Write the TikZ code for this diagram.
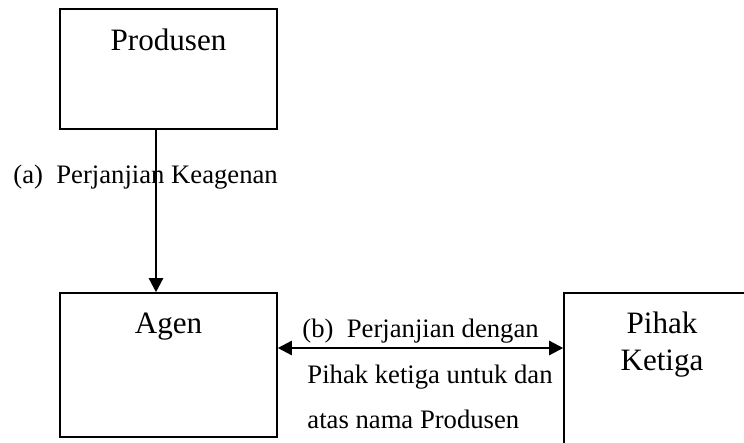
\documentclass[tikz,border=0pt]{standalone}
\usepackage{fontspec}
\setmainfont{Liberation Serif}
\usetikzlibrary{positioning,arrows.meta}

\tikzset{
  box/.style={draw, line width=0.7pt, rectangle, inner sep=0pt},
  boxtext/.style={font=\fontsize{14}{16.6}\selectfont, align=center, anchor=base, inner sep=0pt},
  note/.style={font=\fontsize{12}{14}\selectfont, anchor=base west, inner sep=0pt},
  link/.style={line width=1.1pt, -{Triangle[length=6.3pt,width=6.3pt]}},
  twoway/.style={line width=1.1pt, {Triangle[length=6.3pt,width=6.3pt]}-{Triangle[length=6.3pt,width=6.3pt]}}
}

\begin{document}
\begin{tikzpicture}[x=0.45pt,y=0.45pt]
    \clip (0,0) rectangle (744,442);

    % Boxes
    \node[box, minimum width=97.65pt, minimum height=54pt] (prod) at (168.5,373) {};
    \node[box, minimum width=97.65pt, minimum height=64.8pt] (agen) at (168.5,77) {};
    \node[box, minimum width=88.2pt, minimum height=72pt] (pihak) at (662,69) {};

    % Box titles
    \node[boxtext] (prodlbl) at (168.5,392) {Produsen};
    \node[boxtext] (agenlbl) at (168.5,109) {Agen};
    \node[boxtext] (pihaklbl) at (662,72) {Pihak\\Ketiga};

    % Agreement between producer and agent
    \coordinate (drop) at (156,0);
    \draw[link] (prod.south -| drop) -- (agen.north -| drop);
    \node[note] (alabel) at (13,259) {(a)\ \ Perjanjian Keagenan};

    % Agreement with third party
    \coordinate (row) at (0,94);
    \draw[twoway] (agen.east |- row) -- (pihak.west |- row);
    \node[note] (blabel) at (302,105) {(b)\ \ Perjanjian dengan};
    \node[note] (blabeltwo) at (307,59) {Pihak ketiga untuk dan};
    \node[note] (blabelthree) at (307,14) {atas nama Produsen};
\end{tikzpicture}
\end{document}
